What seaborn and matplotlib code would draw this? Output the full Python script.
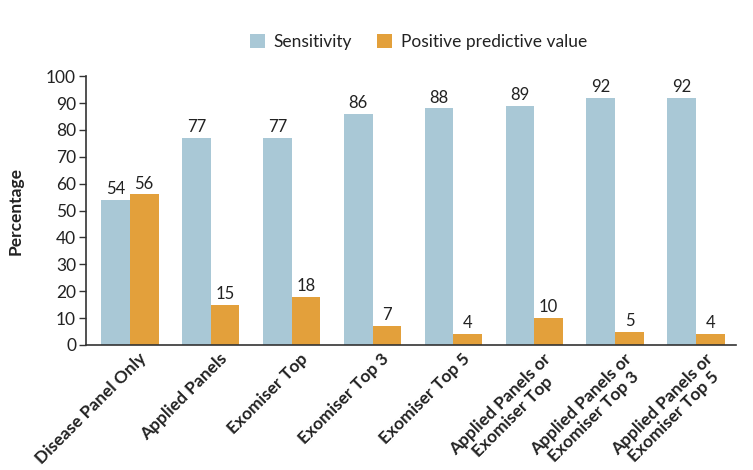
import pandas as pd
import matplotlib.pyplot as plt
import matplotlib.transforms as mtransforms
import seaborn as sns

# Datos
categorias = ["Disease Panel Only", "Applied Panels", "Exomiser Top", "Exomiser Top 3",
              "Exomiser Top 5", "Applied Panels or\nExomiser Top",
              "Applied Panels or\nExomiser Top 3", "Applied Panels or\nExomiser Top 5"]
sensibilidad = [54, 77, 77, 86, 88, 89, 92, 92]
vpp = [56, 15, 18, 7, 4, 10, 5, 4]
series = ["Sensitivity", "Positive predictive value"]
colores = ["#A9C8D6", "#E3A03B"]

df = pd.DataFrame({
    "Categoria": categorias * 2,
    "Serie": [series[0]] * len(categorias) + [series[1]] * len(categorias),
    "Valor": sensibilidad + vpp,
})

sns.set_style("white")
plt.rcParams["font.family"] = ["Lato", "DejaVu Sans"]

fig = plt.figure(figsize=(7.53, 4.70), dpi=100)
ax = fig.add_axes([0.114, 0.266, 0.863, 0.572])

sns.barplot(data=df, x="Categoria", y="Valor", hue="Serie", palette=colores,
            width=0.71, saturation=1, linewidth=0, ax=ax, legend=True)

for cont in ax.containers:
    ax.bar_label(cont, fmt="%d", padding=2, fontsize=12, color="#222222")

ax.set_ylim(0, 100)
ax.set_xlim(-0.544, 7.49)
ax.set_yticks(range(0, 101, 10))
ax.tick_params(axis="y", labelsize=12.5, length=5, width=1, color="#333333",
               labelcolor="#222222", left=True, pad=2)
ax.tick_params(axis="x", length=0, pad=4)
ax.set_xticks(range(len(categorias)))
ax.set_xticklabels(categorias, rotation=45, ha="right", va="top",
                   rotation_mode="anchor", fontsize=12.5, fontweight="bold",
                   color="#222222", multialignment="center", linespacing=1.1)
# desplazar un poco las etiquetas hacia la derecha
desplazamiento = mtransforms.ScaledTranslation(6 / 72, 0, fig.dpi_scale_trans)
for etiqueta in ax.get_xticklabels():
    etiqueta.set_transform(etiqueta.get_transform() + desplazamiento)
ax.set_xlabel("")
ax.set_ylabel("Percentage", fontsize=12.5, fontweight="bold", color="#222222", labelpad=16)

for lado in ["top", "right"]:
    ax.spines[lado].set_visible(False)
for lado in ["left", "bottom"]:
    ax.spines[lado].set_color("#333333")
    ax.spines[lado].set_linewidth(1.2)

ax.legend(loc="center", bbox_to_anchor=(0.512, 1.126), ncol=2, frameon=False,
          fontsize=12.5, handlelength=0.86, handleheight=0.86, columnspacing=1.45,
          handletextpad=0.5, labelcolor="#222222")

fig.savefig("out.png", dpi=100)
